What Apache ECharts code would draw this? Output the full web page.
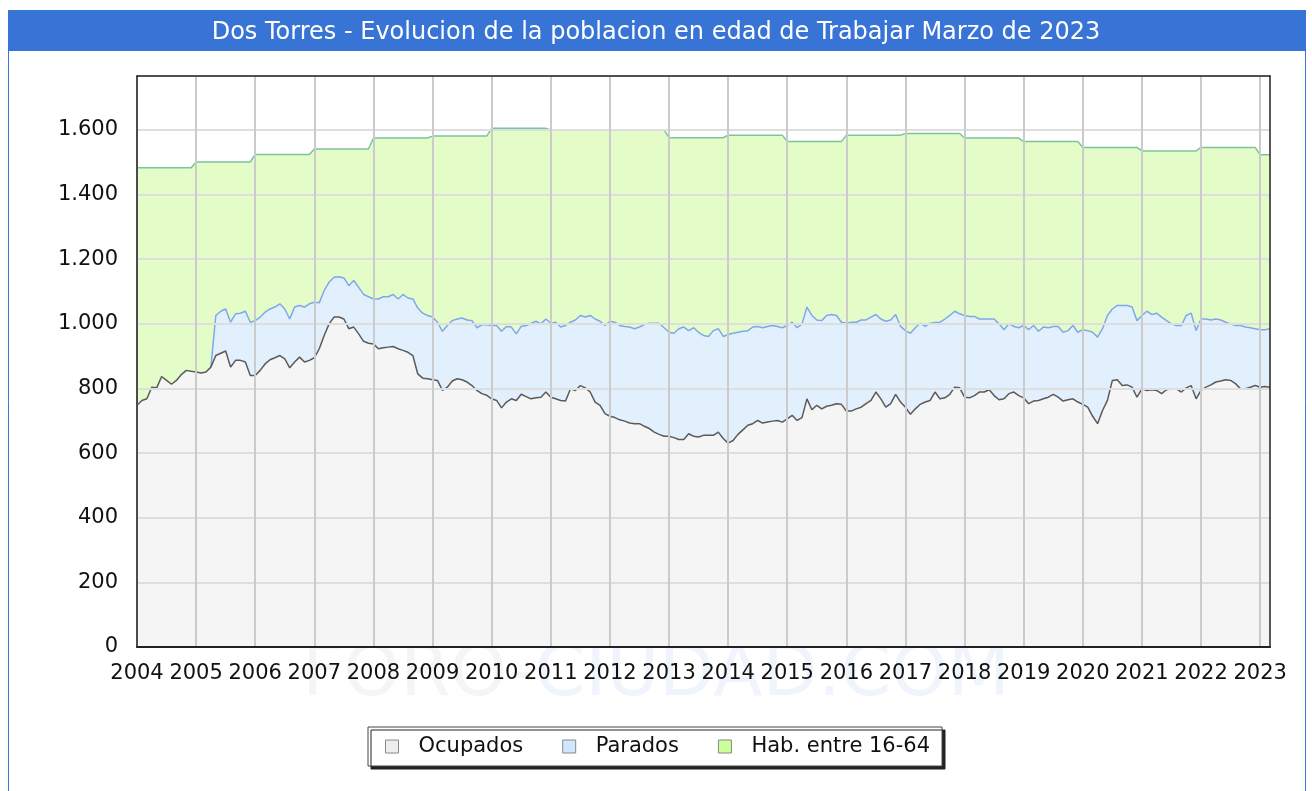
<!DOCTYPE html>
<html style="height: 100%">
<head>
    <meta charset="utf-8">
    <title>Dos Torres</title>
    <script src="https://cdn.jsdelivr.net/npm/echarts@6/dist/echarts.min.js"></script>
</head>
<body style="height: 100%; margin: 0; background: #fff">
<div id="main" style="width: 1312px; height: 791px"></div>
<script type="text/javascript">
    // datos mensuales desde enero 2004 hasta marzo 2023
    var firstYear = 2004;
    var lastYear = 2023;
    var lastMonth = 3;

    var ocupados = [
        748, 763, 768, 804, 802, 837, 825, 813, 825, 843, 856, 853,
        851, 848, 851, 866, 902, 909, 916, 866, 887, 887, 882, 840,
        840, 856, 876, 889, 895, 902, 892, 864, 882, 897, 882, 887,
        895, 923, 964, 1000, 1021, 1021, 1015, 985, 990, 969, 946, 940,
        938, 923, 926, 928, 930, 923, 918, 912, 902, 845, 832, 830,
        827, 825, 794, 804, 823, 830, 827, 820, 809, 794, 784, 779,
        768, 763, 740, 758, 768, 763, 782, 775, 768, 771, 773, 789,
        773, 768, 763, 761, 799, 794, 809, 802, 789, 758, 748, 722,
        714, 710, 703, 699, 693, 691, 691, 683, 676, 665, 658, 652,
        652, 648, 642, 642, 660, 652, 650, 655, 655, 655, 665, 645,
        631, 639, 658, 672, 686, 691, 701, 693, 696, 699, 701, 696,
        706, 717, 701, 710, 768, 734, 748, 737, 745, 748, 753, 751,
        730, 730, 737, 742, 753, 763, 789, 768, 742, 753, 782, 758,
        742, 720, 737, 751, 758, 763, 789, 768, 771, 782, 804, 802,
        773, 771, 778, 789, 789, 796, 778, 765, 768, 784, 789, 778,
        771, 753, 761, 763, 768, 773, 782, 773, 761, 765, 768, 758,
        751, 742, 714, 691, 732, 763, 825, 827, 809, 811, 804, 773,
        799, 794, 796, 794, 784, 796, 799, 799, 789, 802, 809, 768,
        794, 804, 811, 820, 823, 827, 825, 815, 799, 799, 804, 809,
        804, 806, 804
    ];

    var parados = [
        null, null, null, null, null, null, null, null, null, null, null, null,
        null, null, null, 0, 124, 130, 130, 139, 144, 146, 157, 165,
        170, 165, 160, 157, 157, 160, 154, 151, 170, 160, 170, 175,
        172, 142, 139, 129, 123, 125, 127, 133, 144, 144, 145, 144,
        139, 154, 158, 156, 161, 154, 173, 168, 175, 204, 201, 196,
        194, 180, 183, 191, 187, 185, 191, 192, 201, 194, 213, 218,
        227, 232, 237, 234, 222, 206, 210, 220, 234, 237, 227, 226,
        229, 237, 227, 234, 206, 218, 217, 219, 237, 257, 260, 273,
        294, 295, 292, 293, 297, 294, 299, 315, 326, 337, 344, 336,
        322, 323, 343, 348, 319, 336, 324, 309, 306, 324, 320, 316,
        336, 332, 316, 305, 293, 299, 291, 295, 296, 296, 291, 292,
        289, 288, 287, 290, 284, 292, 264, 273, 281, 281, 273, 254,
        272, 275, 268, 270, 259, 258, 240, 247, 266, 259, 247, 234,
        237, 251, 251, 251, 234, 239, 215, 237, 244, 244, 235, 229,
        253, 252, 245, 226, 226, 219, 237, 235, 214, 216, 203, 210,
        224, 229, 234, 214, 222, 215, 210, 219, 213, 214, 227, 216,
        231, 237, 260, 268, 253, 263, 221, 230, 248, 246, 248, 237,
        227, 245, 233, 239, 237, 214, 201, 196, 206, 224, 224, 211,
        221, 211, 201, 195, 189, 178, 175, 180, 196, 191, 184, 176,
        178, 176, 181
    ];

    // habitantes entre 16 y 64, un valor por año (2004..2023)
    var habitantes = [
        1483, 1501, 1524, 1541, 1575, 1581, 1605, 1600, 1600, 1576,
        1584, 1564, 1584, 1589, 1575, 1564, 1546, 1535, 1546, 1523
    ];

    var yTicks = [0, 200, 400, 600, 800, 1000, 1200, 1400, 1600];

    // eje de categorias mensual
    var meses = [];
    var habMensual = [];
    for (var y = firstYear; y <= lastYear; y++) {
        var ultimo = (y === lastYear) ? lastMonth : 12;
        for (var m = 1; m <= ultimo; m++) {
            meses.push(y + '-' + (m < 10 ? '0' + m : m));
            habMensual.push(habitantes[y - firstYear]);
        }
    }

    function formatMiles(v) {
        if (v >= 1000) {
            var r = String(v % 1000);
            while (r.length < 3) r = '0' + r;
            return Math.floor(v / 1000) + '.' + r;
        }
        return String(v);
    }

    var font = 'DejaVu Sans';
    var myChart = echarts.init(document.getElementById('main'), null, {renderer: 'canvas'});

    var option = {
        animation: false,
        backgroundColor: '#fff',
        title: {
            text: 'Dos Torres - Evolucion de la poblacion en edad de Trabajar Marzo de 2023',
            left: 'center',
            top: 16,
            textStyle: {color: '#fff', fontFamily: font, fontSize: 24, fontWeight: 'normal'}
        },
        graphic: [
            {type: 'rect', z: -1, shape: {x: 8.5, y: 10.5, width: 1297, height: 820},
                style: {fill: 'none', stroke: '#3a78d8', lineWidth: 1}},
            {type: 'rect', z: -1, shape: {x: 8, y: 10, width: 1298, height: 41},
                style: {fill: '#3873d6'}},
            {type: 'text', z: -1, left: 'center', top: 640,
                style: {
                    text: '{a|FORO-}{b|CIUDAD.COM}',
                    rich: {
                        a: {fontFamily: font, fontSize: 72, fill: '#f5f5f5'},
                        b: {fontFamily: font, fontSize: 72, fill: '#f0f4fc'}
                    }
                }}
        ],
        legend: {
            left: 368,
            top: 727,
            padding: [9, 12, 9, 17],
            itemGap: 39,
            itemWidth: 13,
            itemHeight: 13,
            icon: 'rect',
            backgroundColor: '#fff',
            borderColor: '#444',
            borderWidth: 1,
            borderRadius: 0,
            shadowColor: '#222',
            shadowBlur: 0,
            shadowOffsetX: 3,
            shadowOffsetY: 3,
            textStyle: {fontFamily: font, fontSize: 21, color: '#111', padding: [0, 0, 0, 15]},
            data: [
                {name: 'Ocupados', itemStyle: {color: '#eeeeee', borderColor: '#888', borderWidth: 1}},
                {name: 'Parados', itemStyle: {color: '#cfe7ff', borderColor: '#888', borderWidth: 1}},
                {name: 'Hab. entre 16-64', itemStyle: {color: '#ccff99', borderColor: '#888', borderWidth: 1}}
            ]
        },
        grid: {left: 137, right: 42, top: 76, bottom: 144},
        xAxis: [{
            type: 'category',
            data: meses,
            boundaryGap: false,
            z: 4,
            axisLine: {show: true, lineStyle: {color: '#222', width: 2}},
            axisTick: {show: false},
            axisLabel: {
                interval: 11,
                margin: 16,
                fontFamily: font,
                fontSize: 21,
                color: '#111',
                formatter: function (v) { return v.slice(0, 4); }
            },
            splitLine: {show: true, interval: 11, lineStyle: {color: '#cbcbcb', width: 2}}
        }, {
            type: 'category',
            data: meses,
            position: 'top',
            boundaryGap: false,
            z: 4,
            axisLine: {show: true, onZero: false, lineStyle: {color: '#222', width: 1.5}},
            axisTick: {show: false},
            axisLabel: {show: false},
            splitLine: {show: false}
        }],
        yAxis: [{
            type: 'value',
            min: 0,
            max: 1767,
            interval: 200,
            z: 4,
            axisLine: {show: true, lineStyle: {color: '#222', width: 1.5}},
            axisTick: {show: false},
            axisLabel: {
                margin: 19,
                fontFamily: font,
                fontSize: 21,
                color: '#111',
                showMaxLabel: false,
                formatter: function (v) {
                    return yTicks.indexOf(v) >= 0 ? formatMiles(v) : '';
                }
            },
            splitLine: {show: true, lineStyle: {color: '#dedede', width: 2}}
        }, {
            type: 'value',
            min: 0,
            max: 1767,
            position: 'right',
            z: 4,
            axisLine: {show: true, lineStyle: {color: '#222', width: 1.5}},
            axisTick: {show: false},
            axisLabel: {show: false},
            splitLine: {show: false}
        }],
        series: [
            {
                name: 'Hab. entre 16-64',
                type: 'line',
                data: habMensual,
                symbol: 'none',
                z: 1,
                lineStyle: {color: '#7cc49b', width: 1.5},
                itemStyle: {color: '#ccff99'},
                areaStyle: {color: '#e4fdc8', opacity: 1}
            },
            {
                name: 'Ocupados',
                type: 'line',
                stack: 'activos',
                data: ocupados,
                symbol: 'none',
                z: 3,
                lineStyle: {color: '#5a5a5a', width: 1.5},
                itemStyle: {color: '#eeeeee'},
                areaStyle: {color: '#f5f5f5', opacity: 1}
            },
            {
                name: 'Parados',
                type: 'line',
                stack: 'activos',
                data: parados,
                symbol: 'none',
                z: 2,
                lineStyle: {color: '#7ea8ea', width: 1.5},
                itemStyle: {color: '#cfe7ff'},
                areaStyle: {color: '#e2f0fe', opacity: 1}
            }
        ]
    };
    myChart.setOption(option);
</script>
</body>
</html>
